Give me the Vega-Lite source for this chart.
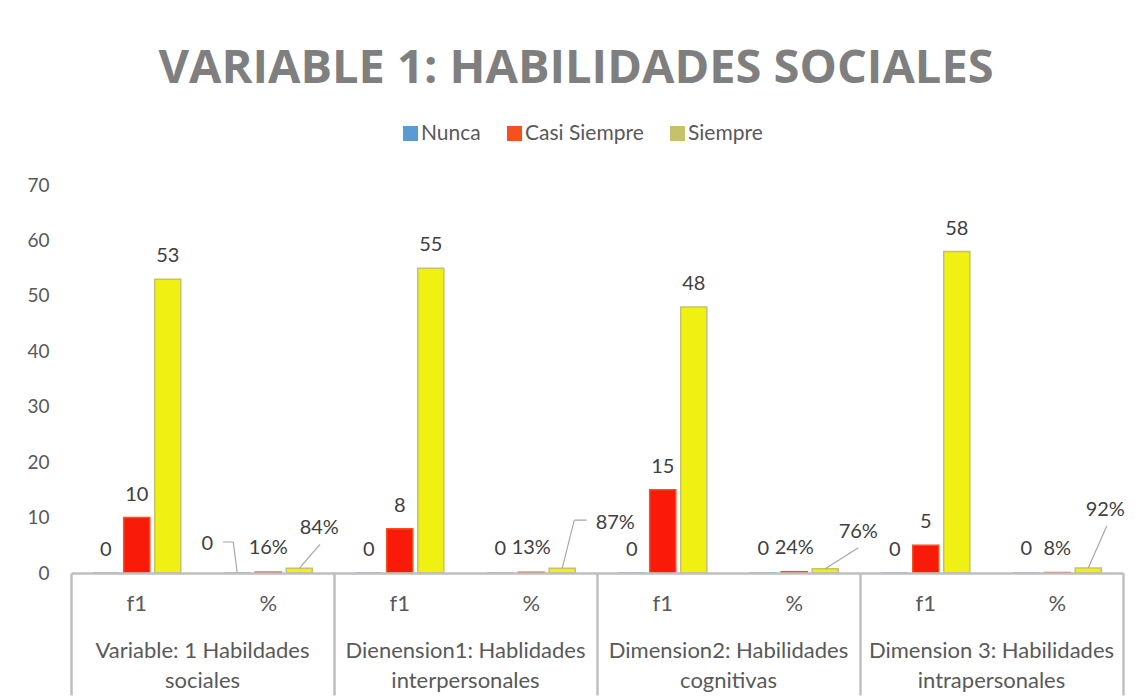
{
  "$schema": "https://vega.github.io/schema/vega-lite/v6.json",
  "width": 1052,
  "height": 388,
  "autosize": {"type": "none"},
  "padding": {"left": 71, "top": 185, "right": 14, "bottom": 126},
  "background": "white",
  "title": {
    "text": "VARIABLE 1: HABILIDADES SOCIALES",
    "font": "Open Sans",
    "fontSize": 47,
    "fontWeight": "bold",
    "color": "#7f7f7f",
    "anchor": "middle",
    "frame": "group",
    "offset": 30,
    "dx": -21
  },
  "config": {
    "view": {"stroke": null},
    "font": "Lato"
  },
  "data": {
    "values": [
      {"grupo": 1, "cat": "f1|Variable: 1 Habildades|sociales", "sub": "f1", "serie": "Nunca", "valor": 0, "etiqueta": "0"},
      {"grupo": 1, "cat": "f1|Variable: 1 Habildades|sociales", "sub": "f1", "serie": "Casi Siempre", "valor": 10, "etiqueta": "10"},
      {"grupo": 1, "cat": "f1|Variable: 1 Habildades|sociales", "sub": "f1", "serie": "Siempre", "valor": 53, "etiqueta": "53"},
      {"grupo": 1, "cat": "%|Variable: 1 Habildades|sociales", "sub": "%", "serie": "Nunca", "valor": 0, "etiqueta": "0"},
      {"grupo": 1, "cat": "%|Variable: 1 Habildades|sociales", "sub": "%", "serie": "Casi Siempre", "valor": 0.16, "etiqueta": "16%"},
      {"grupo": 1, "cat": "%|Variable: 1 Habildades|sociales", "sub": "%", "serie": "Siempre", "valor": 0.84, "etiqueta": "84%"},
      {"grupo": 2, "cat": "f1|Dienension1: Hablidades|interpersonales", "sub": "f1", "serie": "Nunca", "valor": 0, "etiqueta": "0"},
      {"grupo": 2, "cat": "f1|Dienension1: Hablidades|interpersonales", "sub": "f1", "serie": "Casi Siempre", "valor": 8, "etiqueta": "8"},
      {"grupo": 2, "cat": "f1|Dienension1: Hablidades|interpersonales", "sub": "f1", "serie": "Siempre", "valor": 55, "etiqueta": "55"},
      {"grupo": 2, "cat": "%|Dienension1: Hablidades|interpersonales", "sub": "%", "serie": "Nunca", "valor": 0, "etiqueta": "0"},
      {"grupo": 2, "cat": "%|Dienension1: Hablidades|interpersonales", "sub": "%", "serie": "Casi Siempre", "valor": 0.13, "etiqueta": "13%"},
      {"grupo": 2, "cat": "%|Dienension1: Hablidades|interpersonales", "sub": "%", "serie": "Siempre", "valor": 0.87, "etiqueta": "87%"},
      {"grupo": 3, "cat": "f1|Dimension2: Habilidades|cognitivas", "sub": "f1", "serie": "Nunca", "valor": 0, "etiqueta": "0"},
      {"grupo": 3, "cat": "f1|Dimension2: Habilidades|cognitivas", "sub": "f1", "serie": "Casi Siempre", "valor": 15, "etiqueta": "15"},
      {"grupo": 3, "cat": "f1|Dimension2: Habilidades|cognitivas", "sub": "f1", "serie": "Siempre", "valor": 48, "etiqueta": "48"},
      {"grupo": 3, "cat": "%|Dimension2: Habilidades|cognitivas", "sub": "%", "serie": "Nunca", "valor": 0, "etiqueta": "0"},
      {"grupo": 3, "cat": "%|Dimension2: Habilidades|cognitivas", "sub": "%", "serie": "Casi Siempre", "valor": 0.24, "etiqueta": "24%"},
      {"grupo": 3, "cat": "%|Dimension2: Habilidades|cognitivas", "sub": "%", "serie": "Siempre", "valor": 0.76, "etiqueta": "76%"},
      {"grupo": 4, "cat": "f1|Dimension 3: Habilidades|intrapersonales", "sub": "f1", "serie": "Nunca", "valor": 0, "etiqueta": "0"},
      {"grupo": 4, "cat": "f1|Dimension 3: Habilidades|intrapersonales", "sub": "f1", "serie": "Casi Siempre", "valor": 5, "etiqueta": "5"},
      {"grupo": 4, "cat": "f1|Dimension 3: Habilidades|intrapersonales", "sub": "f1", "serie": "Siempre", "valor": 58, "etiqueta": "58"},
      {"grupo": 4, "cat": "%|Dimension 3: Habilidades|intrapersonales", "sub": "%", "serie": "Nunca", "valor": 0, "etiqueta": "0"},
      {"grupo": 4, "cat": "%|Dimension 3: Habilidades|intrapersonales", "sub": "%", "serie": "Casi Siempre", "valor": 0.08, "etiqueta": "8%"},
      {"grupo": 4, "cat": "%|Dimension 3: Habilidades|intrapersonales", "sub": "%", "serie": "Siempre", "valor": 0.92, "etiqueta": "92%"}
    ]
  },
  "encoding": {
    "xOffset": {
      "field": "serie",
      "type": "nominal",
      "sort": ["Nunca", "Casi Siempre", "Siempre"],
      "scale": {"paddingInner": 0.16, "paddingOuter": 0.7}
    },
    "y": {
      "field": "valor",
      "type": "quantitative",
      "scale": {"domain": [0, 70], "nice": false},
      "axis": {
        "title": null,
        "values": [0, 10, 20, 30, 40, 50, 60, 70],
        "labelFont": "Lato",
        "labelFontSize": 19,
        "labelColor": "#595959",
        "labelPadding": 22,
        "domain": false,
        "ticks": false,
        "grid": false
      }
    }
  },
  "layer": [
    {
      "mark": {"type": "bar", "strokeWidth": 1.5},
      "encoding": {
        "x": {
          "field": "cat",
          "type": "nominal",
          "sort": null,
          "scale": {"paddingInner": 0, "paddingOuter": 0},
          "axis": {
            "orient": "bottom",
            "title": null,
            "labelExpr": "split(datum.value, '|')[0]",
            "labelAngle": 0,
            "labelFont": "Lato",
            "labelFontSize": 22,
            "labelColor": "#595959",
            "labelPadding": 20,
            "ticks": false,
            "domain": true,
            "domainColor": "#bfbfbf",
            "domainWidth": 2.5,
            "grid": false,
            "zindex": 1
          }
        },
        "color": {
          "field": "serie",
          "type": "nominal",
          "sort": ["Nunca", "Casi Siempre", "Siempre"],
          "scale": {"range": ["#5b9bd5", "#fa1a0a", "#f0f012"]},
          "legend": null
        },
        "stroke": {
          "field": "serie",
          "type": "nominal",
          "scale": {"domain": ["Nunca", "Casi Siempre", "Siempre"], "range": ["#5b9bd5", "#f4511e", "#c4c36b"]},
          "legend": {
            "title": null,
            "orient": "none",
            "legendX": 329,
            "legendY": -62,
            "direction": "horizontal",
            "symbolType": "square",
            "symbolSize": 9,
            "symbolStrokeWidth": 12,
            "symbolFillColor": "transparent",
            "labelFont": "Lato",
            "labelFontSize": 21,
            "labelColor": "#595959",
            "labelOffset": 0,
            "columnPadding": 8,
            "padding": 0
          }
        }
      }
    },
    {
      "transform": [{"filter": "datum.sub == 'f1'"}],
      "mark": {"type": "text", "font": "Lato", "fontSize": 20, "color": "#404040", "baseline": "middle", "dy": -23},
      "encoding": {
        "x": {
          "field": "cat",
          "type": "nominal",
          "sort": null,
          "scale": {"paddingInner": 0, "paddingOuter": 0},
          "axis": {
            "orient": "bottom",
            "title": null,
            "values": ["f1|Variable: 1 Habildades|sociales", "f1|Dienension1: Hablidades|interpersonales", "f1|Dimension2: Habilidades|cognitivas", "f1|Dimension 3: Habilidades|intrapersonales"],
            "bandPosition": 0,
            "ticks": true,
            "tickSize": 122,
            "tickColor": "#bfbfbf",
            "tickWidth": 2.5,
            "labels": false,
            "domain": false,
            "grid": false
          }
        },
        "text": {"field": "etiqueta"}
      }
    },
    {
      "transform": [{"filter": "datum.sub == '%' && datum.serie == 'Nunca' && datum.grupo > 1"}],
      "mark": {"type": "text", "font": "Lato", "fontSize": 20, "color": "#404040", "baseline": "middle", "dy": -24},
      "encoding": {
        "x": {
          "field": "cat",
          "type": "nominal",
          "sort": null,
          "scale": {"paddingInner": 0, "paddingOuter": 0},
          "axis": {
            "orient": "bottom",
            "title": null,
            "values": ["%|Variable: 1 Habildades|sociales", "%|Dienension1: Hablidades|interpersonales", "%|Dimension2: Habilidades|cognitivas", "%|Dimension 3: Habilidades|intrapersonales"],
            "ticks": false,
            "domain": false,
            "grid": false,
            "labelExpr": "[split(datum.value, '|')[1], split(datum.value, '|')[2]]",
            "labelAngle": 0,
            "labelOffset": -65.75,
            "labelFont": "Lato",
            "labelFontSize": 22,
            "labelColor": "#595959",
            "labelPadding": 67,
            "labelLineHeight": 30,
            "labelLimit": 0,
            "labelOverlap": false,
            "labelBound": false
          }
        },
        "text": {"field": "etiqueta"}
      }
    },
    {
      "transform": [{"filter": "datum.sub == '%' && datum.serie == 'Casi Siempre'"}],
      "mark": {"type": "text", "font": "Lato", "fontSize": 20, "color": "#404040", "baseline": "middle", "dy": -24},
      "encoding": {
        "x": {
          "field": "cat",
          "type": "nominal",
          "sort": null,
          "scale": {"paddingInner": 0, "paddingOuter": 0},
          "axis": {
            "orient": "bottom",
            "title": null,
            "values": ["%|Dimension 3: Habilidades|intrapersonales"],
            "bandPosition": 1,
            "ticks": true,
            "tickSize": 122,
            "tickColor": "#bfbfbf",
            "tickWidth": 2.5,
            "labels": false,
            "domain": false,
            "grid": false
          }
        },
        "text": {"field": "etiqueta"}
      }
    },
    {
      "transform": [{"filter": "datum.sub == '%' && datum.serie == 'Nunca' && datum.grupo == 1"}],
      "mark": {"type": "text", "font": "Lato", "fontSize": 20, "color": "#404040", "baseline": "middle", "dx": -30, "dy": -29},
      "encoding": {
        "x": {"field": "cat", "type": "nominal", "sort": null, "scale": {"paddingInner": 0, "paddingOuter": 0}, "axis": null},
        "text": {"field": "etiqueta"}
      }
    },
    {
      "transform": [{"filter": "datum.sub == '%' && datum.serie == 'Siempre' && datum.grupo == 1"}],
      "mark": {"type": "text", "font": "Lato", "fontSize": 20, "color": "#404040", "baseline": "middle", "dx": 20, "dy": -40},
      "encoding": {
        "x": {"field": "cat", "type": "nominal", "sort": null, "scale": {"paddingInner": 0, "paddingOuter": 0}, "axis": null},
        "text": {"field": "etiqueta"}
      }
    },
    {
      "transform": [{"filter": "datum.sub == '%' && datum.serie == 'Siempre' && datum.grupo == 2"}],
      "mark": {"type": "text", "font": "Lato", "fontSize": 20, "color": "#404040", "baseline": "middle", "dx": 53, "dy": -45},
      "encoding": {
        "x": {"field": "cat", "type": "nominal", "sort": null, "scale": {"paddingInner": 0, "paddingOuter": 0}, "axis": null},
        "text": {"field": "etiqueta"}
      }
    },
    {
      "transform": [{"filter": "datum.sub == '%' && datum.serie == 'Siempre' && datum.grupo == 3"}],
      "mark": {"type": "text", "font": "Lato", "fontSize": 20, "color": "#404040", "baseline": "middle", "dx": 33, "dy": -37},
      "encoding": {
        "x": {"field": "cat", "type": "nominal", "sort": null, "scale": {"paddingInner": 0, "paddingOuter": 0}, "axis": null},
        "text": {"field": "etiqueta"}
      }
    },
    {
      "transform": [{"filter": "datum.sub == '%' && datum.serie == 'Siempre' && datum.grupo == 4"}],
      "mark": {"type": "text", "font": "Lato", "fontSize": 20, "color": "#404040", "baseline": "middle", "dx": 17, "dy": -58},
      "encoding": {
        "x": {"field": "cat", "type": "nominal", "sort": null, "scale": {"paddingInner": 0, "paddingOuter": 0}, "axis": null},
        "text": {"field": "etiqueta"}
      }
    },
    {
      "transform": [{"filter": "datum.sub == '%' && datum.serie == 'Siempre' && datum.grupo == 1"}],
      "mark": {"type": "rule", "color": "#a6a6a6", "strokeWidth": 1.2, "x2Offset": 51.75, "y2Offset": -24},
      "encoding": {
        "x": {"field": "cat", "type": "nominal", "sort": null, "scale": {"paddingInner": 0, "paddingOuter": 0}, "axis": null},
        "x2": {"field": "cat"},
        "y2": {"field": "valor"}
      }
    },
    {
      "transform": [{"filter": "datum.sub == '%' && datum.serie == 'Siempre' && datum.grupo == 2"}],
      "mark": {"type": "rule", "color": "#a6a6a6", "strokeWidth": 1.2, "x2Offset": 43, "y2Offset": -48},
      "encoding": {
        "x": {"field": "cat", "type": "nominal", "sort": null, "scale": {"paddingInner": 0, "paddingOuter": 0}, "axis": null},
        "x2": {"field": "cat"},
        "y2": {"field": "valor"}
      }
    },
    {
      "transform": [{"filter": "datum.sub == '%' && datum.serie == 'Siempre' && datum.grupo == 2"}],
      "mark": {"type": "rule", "color": "#a6a6a6", "strokeWidth": 1.2, "yOffset": -48, "x2Offset": 55.45, "y2Offset": -48, "strokeDash": [0, 12.1, 12.4, 1000]},
      "encoding": {
        "x": {"field": "cat", "type": "nominal", "sort": null, "scale": {"paddingInner": 0, "paddingOuter": 0}, "axis": null},
        "x2": {"field": "cat"},
        "y2": {"field": "valor"}
      }
    },
    {
      "transform": [{"filter": "datum.sub == '%' && datum.serie == 'Siempre' && datum.grupo == 3"}],
      "mark": {"type": "rule", "color": "#a6a6a6", "strokeWidth": 1.2, "x2Offset": 64, "y2Offset": -21},
      "encoding": {
        "x": {"field": "cat", "type": "nominal", "sort": null, "scale": {"paddingInner": 0, "paddingOuter": 0}, "axis": null},
        "x2": {"field": "cat"},
        "y2": {"field": "valor"}
      }
    },
    {
      "transform": [{"filter": "datum.sub == '%' && datum.serie == 'Siempre' && datum.grupo == 4"}],
      "mark": {"type": "rule", "color": "#a6a6a6", "strokeWidth": 1.2, "x2Offset": 49.5, "y2Offset": -42},
      "encoding": {
        "x": {"field": "cat", "type": "nominal", "sort": null, "scale": {"paddingInner": 0, "paddingOuter": 0}, "axis": null},
        "x2": {"field": "cat"},
        "y2": {"field": "valor"}
      }
    },
    {
      "transform": [{"filter": "datum.sub == '%' && datum.serie == 'Nunca' && datum.grupo == 1"}],
      "mark": {"type": "rule", "color": "#a6a6a6", "strokeWidth": 1.2, "x2Offset": -35, "y2Offset": -31},
      "encoding": {
        "x": {"field": "cat", "type": "nominal", "sort": null, "scale": {"paddingInner": 0, "paddingOuter": 0}, "axis": null},
        "x2": {"field": "cat"},
        "y2": {"field": "valor"}
      }
    },
    {
      "transform": [{"filter": "datum.sub == '%' && datum.serie == 'Nunca' && datum.grupo == 1"}],
      "mark": {"type": "rule", "color": "#a6a6a6", "strokeWidth": 1.2, "yOffset": -31, "x2Offset": -45.25, "y2Offset": -31, "strokeDash": [0, 3.9, 10.3, 1000]},
      "encoding": {
        "x": {"field": "cat", "type": "nominal", "sort": null, "scale": {"paddingInner": 0, "paddingOuter": 0}, "axis": null},
        "x2": {"field": "cat"},
        "y2": {"field": "valor"}
      }
    }
  ],
  "resolve": {"axis": {"x": "independent"}}
}
